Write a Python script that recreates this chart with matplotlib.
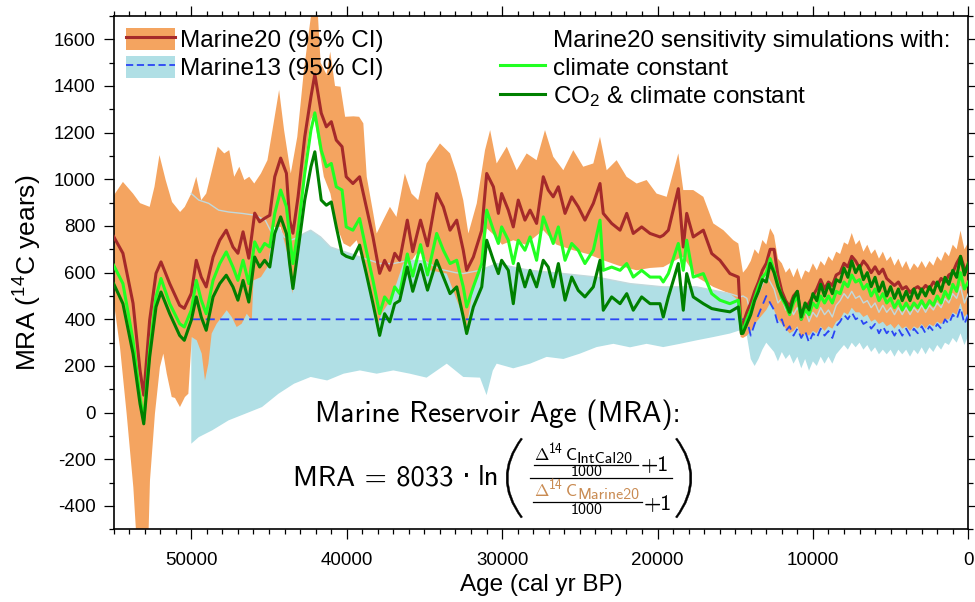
import numpy as np
import matplotlib
matplotlib.use('Agg')
import matplotlib.pyplot as plt
from matplotlib.patches import Patch, PathPatch
from matplotlib.lines import Line2D
from matplotlib.path import Path
from matplotlib.ticker import MultipleLocator

plt.rcParams['font.family'] = ['Liberation Sans', 'DejaVu Sans']
plt.rcParams['mathtext.fontset'] = 'cm'
plt.rcParams['axes.unicode_minus'] = False

# ---- glacial part (irregular ages, cal yr BP) ----
LINE_AGE = [55000, 54400, 53750, 53300, 53060, 52680, 52270, 51950, 51390, 50750,
            50450, 50000, 49680, 49360, 49040, 48600, 48170, 47750, 47320, 47000,
            46670, 46300, 45920, 45600, 45280, 44950, 44630, 44250, 43880, 43670,
            43460, 43130, 42700, 42300, 42050, 41640, 41310, 40990, 40670, 40300,
            40030, 39600, 39170, 38740, 38310, 37880, 37560, 37230, 36910, 36590,
            36100, 35750, 35250, 34800, 34210, 33780, 33350, 32920, 32500, 32280,
            31850, 31310, 30990, 30560, 30240, 30030, 29600, 29280, 28960, 28530,
            28200, 27780, 27350, 27030, 26710, 26380, 25950, 25520, 25100, 24670,
            24130, 23700, 23490, 22950, 22410, 21980, 21560, 21020, 20480, 19840,
            19630, 19300, 18660, 18340, 18120, 17700, 17050, 16510, 15980, 15340,
            14800, 14600]
MARINE20 = [755, 683, 469, 181, 75, 396, 597, 646, 553, 460,
            447, 511, 653, 581, 539, 667, 739, 782, 710, 683,
            775, 662, 855, 818, 833, 846, 1011, 1091, 1026, 825,
            769, 925, 1182, 1354, 1450, 1284, 1225, 1247, 1168, 1140,
            1011, 982, 1011, 882, 753, 597, 653, 610, 683, 653,
            825, 690, 825, 715, 939, 882, 782, 825, 696, 610,
            667, 782, 1025, 968, 854, 939, 868, 796, 911, 825,
            868, 811, 1011, 954, 925, 968, 854, 925, 882, 825,
            897, 982, 854, 811, 782, 854, 768, 796, 768, 753,
            760, 782, 960, 710, 854, 753, 782, 682, 653, 596,
            581, 340]
CLIM_CONST = [632, 553, 310, 67, -33, 267, 496, 575, 467, 381,
              367, 439, 567, 482, 424, 567, 639, 689, 624, 567,
              653, 553, 732, 689, 725, 710, 854, 954, 882, 753,
              639, 782, 1025, 1211, 1285, 1125, 1054, 1068, 968, 954,
              796, 782, 832, 696, 567, 424, 496, 467, 539, 510,
              680, 585, 720, 590, 768, 696, 639, 653, 539, 453,
              539, 639, 868, 782, 725, 796, 739, 639, 739, 696,
              753, 653, 839, 782, 725, 796, 653, 725, 696, 639,
              696, 825, 610, 624, 610, 639, 581, 610, 581, 581,
              560, 596, 725, 610, 739, 581, 596, 510, 482, 467,
              482, 353]
CO2_CLIM_CONST = [553, 467, 253, 38, -48, 238, 453, 517, 424, 331,
                  310, 396, 496, 410, 353, 496, 553, 589, 539, 482,
                  567, 474, 667, 624, 653, 624, 768, 839, 768, 639,
                  532, 696, 911, 1054, 1118, 911, 889, 903, 796, 682,
                  670, 660, 718, 596, 467, 331, 424, 389, 467, 480,
                  624, 520, 635, 525, 653, 581, 510, 539, 410, 339,
                  453, 539, 739, 653, 596, 653, 610, 467, 639, 539,
                  610, 539, 653, 624, 539, 639, 482, 581, 524, 496,
                  539, 653, 439, 496, 467, 510, 439, 496, 467, 467,
                  410, 496, 639, 439, 596, 496, 467, 446, 439, 432,
                  453, 339]

M20_HI_AGE = [55000, 54400, 53750, 53300, 52680, 52370, 52050, 51650, 51240, 50720,
              50420, 50000, 49680, 49360, 49040, 48720, 48300, 47880, 47560, 47240,
              46910, 46590, 46270, 45950, 45520, 45100, 44670, 44350, 44030, 43600,
              43180, 42750, 42320, 42050, 41900, 41680, 41300, 41060, 40750, 40400,
              40100, 39570, 39200, 38930, 38710, 38290, 38070, 37650, 37220, 36800,
              36260, 35830, 35400, 34860, 34000, 33350, 32920, 32500, 32170, 31630,
              31100, 30770, 30350, 29700, 29060, 28420, 27780, 27240, 26710, 26060,
              25420, 24780, 24130, 23700, 23270, 22630, 21990, 21340, 20700, 20060,
              19410, 18660, 18340, 17700, 17050, 16410, 15760, 15120, 14800]
M20_HI = [930, 989, 939, 898, 882, 968, 1104, 997, 903, 860,
          882, 939, 1011, 911, 939, 1025, 1140, 1111, 1125, 1011,
          1054, 997, 1011, 982, 1025, 1082, 1254, 1383, 1211, 1025,
          1182, 1469, 1690, 1780, 1760, 1500, 1450, 1547, 1400, 1397,
          1268, 1270, 1268, 1240, 1011, 854, 768, 825, 882, 839,
          1025, 939, 911, 1068, 1154, 1111, 1025, 911, 768, 897,
          1125, 1211, 1068, 1140, 1039, 1111, 1082, 1211, 1097, 1039,
          1125, 1054, 1068, 1182, 1039, 1082, 1011, 982, 997, 939,
          925, 1111, 954, 954, 925, 811, 782, 739, 725]
M20_LO_AGE = [55000, 54590, 54160, 53730, 53510, 53300, 52900, 52770, 52660, 52340,
              52020, 51800, 51580, 51260, 51050, 50730, 50410, 50190, 49970, 49650,
              49330, 49120, 48900, 48690, 48370, 48040, 47720, 47400, 47080, 46760,
              46430, 46110, 46000, 45520, 45100, 44670, 44250, 43820, 43500, 43180,
              42750, 42320, 42110, 41790, 41470, 41050, 40630, 40200, 39780, 39360,
              38930, 38500, 38070, 37760, 37330, 36800, 36370, 35940, 35510, 35090,
              34640, 33560, 32500, 32280, 31850, 31200, 30990, 30500, 30000, 29280,
              28500, 27350, 26500, 25420, 24500, 23480, 22500, 21340, 20500, 19630,
              18660, 18340, 17480, 16410, 15340, 14800, 14650]
M20_LO = [480, 281, -5, -320, -560, -600, -600, -560, -291, -4,
          195, 253, 167, 67, 63, 24, 67, 81, 324, 310,
          253, 138, 210, 339, 381, 410, 439, 410, 367, 381,
          424, 396, 567, 581, 624, 796, 796, 682, 510, 682,
          1039, 1254, 1282, 1140, 1011, 939, 796, 725, 710, 739,
          653, 539, 367, 424, 467, 553, 639, 639, 682, 682,
          610, 596, 410, 367, 539, 640, 790, 760, 720, 739,
          720, 782, 720, 696, 680, 653, 630, 610, 620, 624,
          660, 667, 581, 539, 510, 482, 324]

M13_HI_AGE = [50000, 49520, 48880, 48240, 47600, 46740, 45880, 45240, 44810, 44390,
              44030, 43600, 43180, 42750, 42320, 41680, 41050, 40420, 39780, 39150,
              38500, 37860, 37000, 35940, 35000, 34000, 33000, 32500, 31420, 30350,
              29000, 28200, 26060, 23920, 21770, 19630, 17480, 15340, 14690]
M13_HI = [939, 911, 897, 868, 860, 854, 846, 825, 768, 796,
          753, 739, 750, 768, 782, 753, 710, 696, 682, 667,
          653, 639, 639, 653, 650, 615, 600, 596, 610, 639,
          620, 610, 596, 581, 553, 539, 539, 510, 496]
M13_LO_AGE = [50000, 49520, 48660, 47600, 46540, 45450, 44390, 43390, 42320, 41260,
              40200, 39150, 38070, 37000, 35940, 34860, 33560, 32500, 31420, 31000,
              30600, 30350, 29280, 28200, 27130, 26060, 24990, 23920, 22840, 21770,
              20700, 19630, 18550, 17480, 16410, 15340, 14690]
M13_LO = [-133, -105, -76, -33, -5, 24, 81, 124, 153, 138,
          167, 181, 167, 181, 167, 150, 210, 153, 150, 75,
          180, 210, 190, 210, 239, 230, 253, 281, 295, 280,
          295, 281, 295, 310, 324, 339, 353]

# ---- Holocene / deglacial part, 250-yr steps from 14500 to 0 ----
HOL_AGE = list(range(14500, -1, -250))
MARINE20_H = [380, 430, 470, 520, 560, 610, 640, 700, 700, 590,
              520, 480, 455, 500, 520, 400, 450, 470, 500, 530,
              570, 530, 560, 545, 590, 600, 640, 625, 670, 650,
              620, 650, 630, 600, 625, 595, 615, 575, 560, 545,
              560, 530, 540, 515, 530, 540, 525, 545, 530, 560,
              545, 575, 560, 590, 600, 640, 670, 620, 600]
CLIM_CONST_H = [350, 400, 440, 490, 540, 580, 600, 660, 610, 550,
                490, 460, 420, 470, 500, 400, 440, 420, 470, 450,
                500, 470, 500, 470, 520, 510, 560, 540, 590, 560,
                570, 530, 550, 500, 530, 480, 510, 470, 490, 450,
                480, 440, 470, 440, 470, 450, 480, 450, 480, 460,
                500, 470, 520, 490, 550, 520, 600, 530, 560]
CO2_CLIM_CONST_H = [340, 380, 420, 480, 520, 570, 560, 640, 600, 540,
                    500, 470, 430, 490, 520, 410, 470, 440, 510, 480,
                    550, 500, 550, 510, 570, 560, 620, 580, 650, 600,
                    630, 570, 600, 540, 580, 520, 560, 500, 540, 490,
                    530, 480, 520, 480, 530, 490, 530, 500, 540, 510,
                    560, 520, 580, 550, 610, 580, 670, 590, 640]
M20_HI_H = [600, 620, 650, 700, 680, 740, 720, 790, 760, 660,
            640, 600, 620, 580, 620, 570, 610, 600, 640, 610,
            650, 630, 670, 650, 690, 680, 730, 720, 770, 720,
            740, 690, 720, 680, 700, 660, 690, 650, 670, 630,
            660, 620, 650, 610, 640, 620, 650, 620, 650, 630,
            670, 650, 690, 670, 720, 700, 780, 700, 730]
M20_LO_H = [320, 330, 350, 380, 400, 420, 440, 470, 440, 400,
            380, 360, 340, 350, 370, 320, 340, 330, 350, 340,
            370, 350, 370, 360, 390, 400, 430, 420, 450, 430,
            430, 410, 420, 390, 400, 380, 390, 370, 380, 360,
            380, 360, 370, 350, 370, 360, 380, 360, 380, 370,
            390, 380, 400, 400, 430, 420, 470, 410, 430]
MARINE13_H = [400, 400, 330, 380, 420, 460, 500, 470, 440, 380,
              400, 350, 370, 330, 360, 320, 350, 300, 340, 320,
              360, 330, 350, 320, 370, 390, 420, 400, 430, 400,
              410, 380, 390, 360, 380, 340, 370, 340, 360, 330,
              360, 330, 360, 330, 360, 340, 370, 340, 370, 350,
              380, 360, 400, 380, 420, 400, 450, 380, 420]
M13_HI_H = [500, 490, 420, 470, 510, 550, 590, 560, 530, 470,
            490, 440, 460, 420, 450, 410, 440, 390, 430, 410,
            450, 420, 440, 410, 460, 480, 510, 490, 520, 490,
            500, 470, 480, 450, 470, 430, 460, 430, 450, 420,
            450, 420, 450, 420, 450, 430, 460, 430, 460, 440,
            470, 450, 490, 470, 510, 490, 540, 470, 510]
M13_LO_H = [350, 330, 230, 200, 230, 270, 300, 280, 260, 220,
            260, 230, 250, 210, 240, 190, 230, 180, 220, 200,
            240, 210, 240, 210, 250, 270, 290, 270, 300, 280,
            300, 270, 290, 260, 280, 250, 270, 250, 270, 240,
            270, 250, 270, 240, 270, 250, 280, 250, 280, 260,
            290, 270, 300, 290, 320, 300, 340, 290, 330]
MARINE13_FLAT_AGE = [50000]
MARINE13_FLAT = [400]

ORANGE = '#f4a460'
LIGHTBLUE = '#b0dfe5'
DARKRED = '#a52a2a'
LIME = '#22ff22'
DKGREEN = '#008000'
DASHBLUE = '#2b45f5'

W, H = 975, 602
fig = plt.figure(figsize=(W / 100, H / 100), dpi=100)
ax = fig.add_axes([113.6 / W, 1 - 529.3 / H, (968.3 - 113.6) / W, (529.3 - 16) / H])


def both(a, b):
    return np.asarray(list(a) + list(b), dtype=float)


# Marine13 band
m13_hi_x, m13_hi_y = both(M13_HI_AGE, HOL_AGE), both(M13_HI, M13_HI_H)
m13_lo_x, m13_lo_y = both(M13_LO_AGE, HOL_AGE), both(M13_LO, M13_LO_H)
ax.fill(np.r_[m13_hi_x, m13_lo_x[::-1]], np.r_[m13_hi_y, m13_lo_y[::-1]],
        color=LIGHTBLUE, lw=0, zorder=1)

# Marine20 band
m20_hi_x, m20_hi_y = both(M20_HI_AGE, HOL_AGE), both(M20_HI, M20_HI_H)
m20_lo_x, m20_lo_y = both(M20_LO_AGE, HOL_AGE), both(M20_LO, M20_LO_H)
ax.fill(np.r_[m20_hi_x, m20_lo_x[::-1]], np.r_[m20_hi_y, m20_lo_y[::-1]],
        color=ORANGE, lw=0, zorder=2)

# upper edge of the Marine13 band, visible over the orange
ax.plot(m13_hi_x, m13_hi_y, color='#c2d9dc', lw=1.0, zorder=3)

ax.plot(both(MARINE13_FLAT_AGE, HOL_AGE), both(MARINE13_FLAT, MARINE13_H),
        color=DASHBLUE, lw=1.3, dashes=(5, 3), zorder=4)

ages = both(LINE_AGE, HOL_AGE)
ax.plot(ages, both(MARINE20, MARINE20_H), color=DARKRED, lw=2.2, zorder=5)
ax.plot(ages, both(CLIM_CONST, CLIM_CONST_H), color=LIME, lw=2.2, zorder=6)
ax.plot(ages, both(CO2_CLIM_CONST, CO2_CLIM_CONST_H), color=DKGREEN, lw=2.2, zorder=7)

ax.set_xlim(55000, 0)
ax.set_ylim(-500, 1700)
ax.xaxis.set_major_locator(MultipleLocator(10000))
ax.xaxis.set_minor_locator(MultipleLocator(1000))
ax.yaxis.set_major_locator(MultipleLocator(200))
ax.yaxis.set_minor_locator(MultipleLocator(100))
ax.tick_params(which='both', direction='out', top=True, right=True,
               labelsize=13.5, width=0.9)
ax.tick_params(which='major', length=7)
ax.tick_params(which='minor', length=3.5)
ax.tick_params(axis='x', pad=9)
ax.tick_params(axis='y', pad=6)
for s in ax.spines.values():
    s.set_linewidth(1.2)
ax.set_xlabel('Age (cal yr BP)', fontsize=17.5, labelpad=4)
ax.set_ylabel(r'MRA ($\mathregular{^{14}}$C years)', fontsize=19, labelpad=7)

# legends
h_m20 = (Patch(facecolor=ORANGE, edgecolor='none'), Line2D([], [], color=DARKRED, lw=2.2))
h_m13 = (Patch(facecolor=LIGHTBLUE, edgecolor='none'),
         Line2D([], [], color=DASHBLUE, lw=1.3, dashes=(4, 2)))
leg1 = ax.legend([h_m20, h_m13], ['Marine20 (95% CI)', 'Marine13 (95% CI)'],
                 loc='upper left', bbox_to_anchor=(0.015, 0.977), frameon=False,
                 fontsize=17.5, handlelength=1.98, handleheight=1.0,
                 handletextpad=0.22, labelspacing=0.16, borderpad=0, borderaxespad=0)
ax.add_artist(leg1)
blank = Line2D([], [], color='none')
ax.legend([blank, Line2D([], [], color=LIME, lw=2.2), Line2D([], [], color=DKGREEN, lw=2.2)],
          ['Marine20 sensitivity simulations with:', 'climate constant',
           r'CO$\mathregular{_2}$ & climate constant'],
          loc='upper left', bbox_to_anchor=(0.452, 0.977), frameon=False,
          fontsize=17.5, handlelength=1.85, handleheight=1.0,
          handletextpad=0.33, labelspacing=0.16, borderpad=0, borderaxespad=0)


# MRA formula, laid out piece by piece in figure pixels
def ftext(x, y, s, size, ha='left', color='k', family='cmss10'):
    fig.text(x / W, 1 - y / H, s, fontsize=size, ha=ha, va='baseline',
             color=color, family=family)


TAN = '#c98b52'
ftext(498, 422, 'Marine Reservoir Age (MRA):', 21, ha='center')
ftext(293, 485, 'MRA = 8033', 20.5)
ftext(466, 485, '\u00b7', 20, ha='center', family='DejaVu Sans')
ftext(478, 485, 'ln', 20.5)

for yb, name, color in [(460, 'IntCal20', 'k'), (496, 'Marine20', TAN)]:
    fig.text(534 / W, 1 - yb / H, r'$\Delta$', fontsize=12.5, ha='left', va='baseline',
             color=color)
    ftext(549, yb - 7, '14', 10, color=color)
    ftext(566, yb, 'C', 12.5, color=color)
    ftext(577, yb + 3, name, 11.5, color=color)
ftext(587, 475.5, '1000', 11.5, ha='center')
ftext(587, 514, '1000', 11.5, ha='center')
ftext(641, 471, '+1', 16)
ftext(644, 510, '+1', 16)

for x0, x1, y in [(530, 672, 477.5), (534, 638, 465), (533, 642, 502)]:
    fig.add_artist(Line2D([x0 / W, x1 / W], [1 - y / H] * 2,
                          transform=fig.transFigure, color='k', lw=0.9))


def paren(x_end, c_out, c_in, dx, y_top=438, y_bot=518):
    ym = (y_top + y_bot) / 2
    pts = [(x_end, y_top), (c_out, ym), (x_end, y_bot),
           (x_end + dx, y_bot - 1), (c_in, ym), (x_end + dx, y_top + 1), (x_end, y_top)]
    verts = [(x / W, 1 - y / H) for x, y in pts]
    codes = [Path.MOVETO, Path.CURVE3, Path.CURVE3, Path.LINETO,
             Path.CURVE3, Path.CURVE3, Path.CLOSEPOLY]
    fig.add_artist(PathPatch(Path(verts, codes), transform=fig.transFigure,
                             facecolor='k', edgecolor='k', lw=0.3))


paren(521, 491, 493.9, 1.5)
paren(677, 707, 704.1, -1.5)

fig.savefig('out.png', dpi=100)
